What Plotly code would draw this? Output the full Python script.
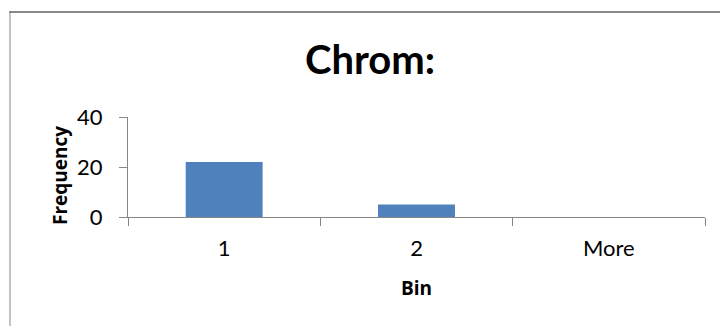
import plotly.graph_objects as go

# Histogram output: bin labels and their frequencies
bins = ["1", "2", "More"]
frequency = [22, 5, 0]
y_ticks = [0, 20, 40]

W, H = 720, 326
L, R, T, B = 128, 15, 117, 109
plot_w = W - L - R
plot_h = H - T - B

def px_x(px):
    return (px - L) / plot_w

def px_y(py):
    return (H - B - py) / plot_h

FONT = "Lato"
TITLE_FONT = "Open Sans"
AXIS_GRAY = "#868686"

fig = go.Figure(
    go.Bar(
        x=bins,
        y=frequency,
        marker=dict(color="#4F81BD", line=dict(width=0)),
        width=0.4,
    )
)

fig.update_layout(
    width=W,
    height=H,
    margin=dict(l=L, r=R, t=T, b=B),
    paper_bgcolor="white",
    plot_bgcolor="white",
    showlegend=False,
    title=dict(
        text="<b>Chrom:</b>",
        x=px_x(370), xref="paper", xanchor="center",
        y=1 - 60 / H, yref="container", yanchor="middle",
        font=dict(family=FONT, size=40, color="black"),
    ),
    xaxis=dict(
        type="category",
        range=[-0.5, 2.5],
        tickson="boundaries",
        ticks="outside",
        ticklen=8,
        tickcolor=AXIS_GRAY,
        showline=True,
        linecolor=AXIS_GRAY,
        linewidth=1,
        showgrid=False,
        zeroline=False,
        ticklabelstandoff=12,
        tickfont=dict(family=FONT, size=22, color="black"),
        fixedrange=True,
    ),
    yaxis=dict(
        range=[0, 40],
        tickvals=y_ticks,
        ticks="outside",
        ticklen=8,
        tickcolor=AXIS_GRAY,
        showline=True,
        linecolor=AXIS_GRAY,
        linewidth=1,
        showgrid=False,
        zeroline=False,
        ticklabelstandoff=12,
        tickfont=dict(family=FONT, size=22, color="black"),
        fixedrange=True,
    ),
    annotations=[
        dict(text="<b>Bin</b>", xref="paper", yref="paper",
             x=px_x(416), y=px_y(288), xanchor="center", yanchor="middle",
             showarrow=False, font=dict(family=TITLE_FONT, size=19, color="black")),
        dict(text="<b>Frequency</b>", xref="paper", yref="paper",
             x=px_x(60), y=px_y(176), xanchor="center", yanchor="middle",
             textangle=-90, showarrow=False,
             font=dict(family=TITLE_FONT, size=19, color="black")),
    ],
    shapes=[
        dict(type="line", xref="paper", yref="paper",
             x0=px_x(9), x1=px_x(W + 5), y0=px_y(12), y1=px_y(12),
             line=dict(color="#888888", width=2)),
        dict(type="line", xref="paper", yref="paper",
             x0=px_x(10), x1=px_x(10), y0=px_y(12), y1=px_y(H + 5),
             line=dict(color="#888888", width=1)),
    ],
)

fig.write_html("out.html")
